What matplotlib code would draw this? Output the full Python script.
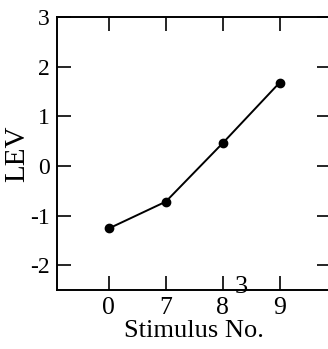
import matplotlib
matplotlib.use('Agg')
import matplotlib.pyplot as plt

# values
stimulus = ['0', '7', '8', '9']
lev = [-1.26, -0.72, 0.46, 1.68]
yticks = [-2, -1, 0, 1, 2, 3]

plt.rcParams['font.family'] = ['Liberation Serif', 'DejaVu Serif']

fig = plt.figure(figsize=(3.28, 3.49), dpi=100)
# axes reaches past the right edge, as in the cropped original
ax = fig.add_axes([57/328, 1 - 290/349, (331 - 57)/328, (290 - 17)/349])

xs = list(range(len(stimulus)))
ax.plot(xs, lev, color='black', lw=1.4, marker='o', ms=6)

ax.set_xlim(-0.91, 3.9)
ax.set_ylim(-2.5, 3)
ax.set_xticks(xs)
ax.set_xticklabels(stimulus)
ax.set_yticks(yticks)
ax.set_yticklabels([str(v) for v in yticks])

ax.tick_params(direction='in', length=10, width=1.2,
               top=True, right=True)
ax.tick_params(axis='x', labelsize=18.5, pad=5)
ax.tick_params(axis='y', labelsize=17, pad=5)
for s in ax.spines.values():
    s.set_linewidth(1.4)

ax.set_xlabel('Stimulus No.', fontsize=19, labelpad=1)
ax.set_ylabel('LEV', fontsize=21, labelpad=0)

# stray "3" overlapping the axis near the "8" label
fig.text(241/328, 1 - 287/349, '3', fontsize=19, ha='center', va='center')

fig.savefig('out.png', dpi=100)
